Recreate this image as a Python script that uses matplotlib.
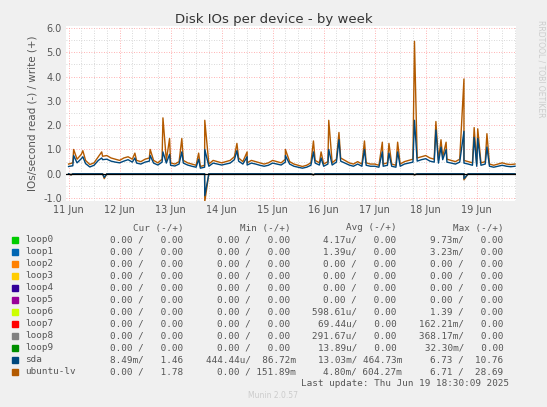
import numpy as np
import matplotlib
matplotlib.use("Agg")
import matplotlib.pyplot as plt

# ---------------------------------------------------------------
# data (days since 11 Jun 00:00, 2 h steps)
lv_write = [0.40,0.45,0.60,0.80,0.55,0.38,0.45,0.70,0.72,0.75,0.65,0.60,
            0.55,0.65,0.70,0.60,0.55,0.50,0.60,0.65,0.55,0.45,0.60,0.55,
            0.45,0.40,0.50,0.55,0.45,0.40,0.35,0.30,0.35,0.40,0.55,0.50,
            0.45,0.50,0.55,0.70,0.65,0.50,0.45,0.55,0.50,0.45,0.40,0.45,
            0.55,0.50,0.45,0.60,0.50,0.40,0.35,0.30,0.35,0.45,0.55,0.45,
            0.40,0.50,0.45,0.60,0.65,0.55,0.45,0.40,0.50,0.40,0.45,0.40,
            0.40,0.35,0.40,0.45,0.40,0.35,0.40,0.50,0.55,0.60,0.65,0.70,
            0.75,0.65,0.60,0.55,0.70,0.60,0.55,0.50,0.60,0.55,0.50,0.45,
            0.40,0.45,0.50,0.40,0.35,0.40,0.45,0.40,0.38,0.40]
sda_write = [0.30,0.33,0.45,0.62,0.42,0.28,0.35,0.55,0.58,0.60,0.52,0.48,
             0.45,0.52,0.58,0.48,0.44,0.40,0.48,0.52,0.44,0.36,0.48,0.44,
             0.35,0.32,0.40,0.44,0.36,0.31,0.27,0.23,0.27,0.31,0.44,0.40,
             0.36,0.40,0.44,0.58,0.52,0.40,0.36,0.44,0.40,0.35,0.31,0.35,
             0.44,0.40,0.36,0.48,0.40,0.31,0.27,0.23,0.27,0.35,0.44,0.36,
             0.31,0.40,0.36,0.48,0.52,0.44,0.36,0.31,0.40,0.31,0.35,0.31,
             0.31,0.27,0.31,0.35,0.31,0.27,0.31,0.40,0.44,0.48,0.52,0.58,
             0.62,0.52,0.48,0.44,0.58,0.48,0.44,0.40,0.48,0.44,0.40,0.35,
             0.31,0.35,0.40,0.31,0.27,0.31,0.35,0.31,0.29,0.31]
# spikes: day offset, ubuntu-lv, sda
spike_t = [0.10,0.28,0.65,1.30,1.60,1.85,1.98,2.22,2.55,2.67,3.30,3.50,
           4.25,4.80,4.95,5.10,5.30,5.80,6.15,6.28,6.45,6.78,7.20,7.30,
           7.40,7.75,7.95,8.02,8.20]
spike_lv = [1.00,0.95,0.90,0.85,1.00,2.30,1.45,1.45,0.85,2.20,1.25,0.90,
            1.00,1.35,0.90,2.20,1.70,1.35,1.30,1.25,1.30,5.45,2.15,1.40,
            1.30,3.90,1.90,1.85,1.65]
spike_sda = [0.75,0.70,0.65,0.65,0.75,0.90,0.80,0.90,0.60,1.00,0.95,0.70,
             0.75,0.90,0.65,1.00,1.40,1.00,0.90,0.85,0.90,2.20,1.80,1.10,
             1.00,1.75,1.50,1.45,1.10]
read_t = [0.05,0.70,2.67,4.80,6.78,7.75]
read_lv = [-0.05,-0.20,-1.15,-0.05,-0.05,-0.25]
read_sda = [-0.04,-0.15,-0.90,-0.04,-0.04,-0.20]

day_labels = ["11 Jun","12 Jun","13 Jun","14 Jun","15 Jun","16 Jun","17 Jun","18 Jun","19 Jun"]

names = ["loop0","loop1","loop2","loop3","loop4","loop5","loop6","loop7","loop8","loop9","sda","ubuntu-lv"]
colors = ["#00cc00","#0066b3","#ff8000","#ffcc00","#330099","#990099","#ccff00","#ff0000",
          "#808080","#008f00","#00487d","#b35a00"]
cur = ["0.00 /   0.00 "]*10 + ["8.49m/   1.46 ", "0.00 /   1.78 "]
mins = ["0.00 /   0.00 "]*10 + ["444.44u/  86.72m", "0.00 / 151.89m"]
avgs = ["4.17u/   0.00 ","1.39u/   0.00 ","0.00 /   0.00 ","0.00 /   0.00 ","0.00 /   0.00 ",
        "0.00 /   0.00 ","598.61u/   0.00 ","69.44u/   0.00 ","291.67u/   0.00 ","13.89u/   0.00 ",
        "13.03m/ 464.73m","4.80m/ 604.27m"]
maxs = ["9.73m/   0.00 ","3.23m/   0.00 ","0.00 /   0.00 ","0.00 /   0.00 ","0.00 /   0.00 ",
        "0.00 /   0.00 ","1.39 /   0.00 ","162.21m/   0.00 ","368.17m/   0.00 ","32.30m/   0.00 ",
        "6.73 /  10.76 ","6.71 /  28.69 "]

# ---------------------------------------------------------------
t_base = np.arange(len(lv_write)) / 12.0
t = np.concatenate([t_base, spike_t])
order = np.argsort(t)
t = t[order]
lv = np.concatenate([lv_write, spike_lv])[order]
sd = np.concatenate([sda_write, spike_sda])[order]

rt = np.concatenate([t_base, read_t])
ro = np.argsort(rt)
rt = rt[ro]
rlv = np.concatenate([np.zeros(len(t_base)), read_lv])[ro]
rsd = np.concatenate([np.zeros(len(t_base)), read_sda])[ro]

W, H = 547, 407
fig = plt.figure(figsize=(W/100, H/100), dpi=100, facecolor="#f0f0f0")
ax = fig.add_axes([66/W, 1-201/H, 450/W, 175/H])
ax.set_facecolor("white")
ax.set_xlim(-0.05, 8.77)
ax.set_ylim(-1.12, 6.08)

for y in np.arange(-1.0, 6.01, 0.5):
    major = abs(y - round(y)) < 1e-6
    ax.axhline(y, color="#ff9999" if major else "#cccccc", lw=0.6, ls=(0, (1, 2)), zorder=0)
for x in np.arange(0, 8.8, 0.25):
    major = abs(x - round(x)) < 1e-6
    ax.axvline(x, color="#ff9999" if major else "#cccccc", lw=0.6, ls=(0, (1, 2)), zorder=0)

ax.plot(t, lv, color="#b35a00", lw=1.0, zorder=3)
ax.plot(t, sd, color="#00487d", lw=1.0, zorder=4)
ax.plot(rt, rlv, color="#b35a00", lw=1.0, zorder=3)
ax.plot(rt, rsd, color="#00487d", lw=1.0, zorder=4)
ax.axhline(0, color="black", lw=0.9, zorder=5)

ax.set_yticks(np.arange(-1, 6.01, 1.0))
ax.set_yticklabels(["%.1f" % v for v in np.arange(-1, 6.01, 1.0)])
ax.set_xticks(np.arange(9))
ax.set_xticklabels(day_labels)
ax.tick_params(labelsize=7, colors="#555555", length=0, pad=3)
for s in ax.spines.values():
    s.set_visible(False)
ax.set_ylabel("IOs/second read (-) / write (+)", fontsize=7.5, color="#555555", labelpad=4)

fig.text(0.5, 1-19/H, "Disk IOs per device - by week", ha="center", va="center",
         fontsize=9.5, color="#333333")
fig.text(541/W, 0.95, "RRDTOOL / TOBI OETIKER", rotation=270, ha="center", va="top",
         fontsize=5.5, color="#cccccc")
fig.text(0.5, 1-395/H, "Munin 2.0.57", ha="center", va="center", fontsize=5.5, color="#cccccc")

mono = dict(family="DejaVu Sans Mono", fontsize=6.7, color="#555555", va="center")
cols_right = [189, 296, 402, 509]
headers = ["Cur (-/+)", "Min (-/+)", "Avg (-/+)", "Max (-/+)"]
for xr, h in zip(cols_right, headers):
    fig.text(xr/W, 1-228/H, h + " ", ha="right", **mono)
for i, nm in enumerate(names):
    y = 1 - (240 + 12*i)/H
    fig.patches.append(plt.Rectangle((12/W, y - 3/H), 6/W, 6/H, transform=fig.transFigure,
                                     color=colors[i], figure=fig))
    fig.text(25/W, y, nm, ha="left", **mono)
    for xr, vals in zip(cols_right, [cur, mins, avgs, maxs]):
        fig.text(xr/W, y, vals[i], ha="right", **mono)
fig.text(509/W, 1-383/H, "Last update: Thu Jun 19 18:30:09 2025", ha="right", **mono)

fig.savefig("out.png", dpi=100, facecolor=fig.get_facecolor())
